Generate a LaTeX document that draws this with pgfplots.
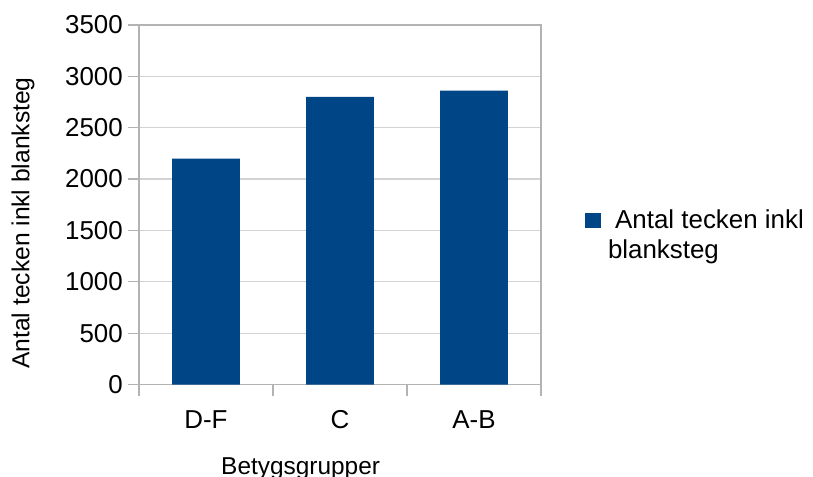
\documentclass[border=0pt]{standalone}
\usepackage{fontspec}
\setmainfont{Liberation Sans}
\usepackage{pgfplots}
\pgfplotsset{compat=1.18}
\definecolor{barblue}{HTML}{004586}
\definecolor{axisgray}{HTML}{B3B3B3}
\definecolor{gridgray}{HTML}{D3D3D3}

\begin{document}
\begin{tikzpicture}
\begin{axis}[
  at={(0,0)}, anchor=south west,
  scale only axis, width=402bp, height=359.5bp,
  xmin=-0.5, xmax=2.5, ymin=0, ymax=3500,
  ytick={0,500,...,3500},
  xtick={0,1,2}, xticklabels={D-F,C,A-B},
  xtick pos=bottom, ytick pos=left,
  xtick style={draw=none},
  extra x ticks={-0.5,0.5,1.5,2.5}, extra x tick labels={},
  extra x tick style={xtick style={draw=axisgray, line width=1.2bp}, xtick pos=bottom},
  ytick style={draw=axisgray, line width=1.2bp},
  tick align=outside, major tick length=11bp,
  ymajorgrids, grid style={draw=gridgray, line width=1.2bp},
  axis line style={draw=axisgray, line width=1.2bp},
  /pgf/number format/assume math mode=true,
  /pgf/number format/1000 sep={},
  tick label style={font=\fontsize{26}{30}\selectfont, inner sep=0pt},
  yticklabel style={anchor=east, xshift=-5bp},
  xticklabel style={anchor=base, yshift=-32.5bp},
  xlabel={Betygsgrupper},
  xlabel style={at={(axis description cs:0.402,-0.249)}, anchor=base,
    inner sep=0pt, font=\fontsize{24.5}{28}\selectfont},
  ylabel={Antal tecken inkl blanksteg},
  ylabel style={at={(axis description cs:-0.2886,0.4492)}, anchor=center,
    inner sep=0pt, font=\fontsize{24.7}{28}\selectfont},
  legend style={draw=none, fill=none, at={(1.1095,0.491)}, anchor=north west,
    inner sep=0pt, outer sep=0pt, column sep=7bp,
    nodes={inner sep=0pt, font=\fontsize{26}{30}\selectfont}},
  legend cell align=left,
  legend image code/.code={\fill[barblue] (0bp,-9bp) rectangle (16bp,6bp);},
]
\addplot[ybar, bar width=0.507, fill=barblue, draw=none]
  coordinates {(0,2200) (1,2800) (2,2860)};
\addlegendentry{\begin{tabular}[t]{@{}l@{}}\ Antal tecken inkl\\blanksteg\end{tabular}}
\end{axis}
\pgfresetboundingbox
\path (-139bp,-92.5bp) rectangle (674bp,384.5bp);
\end{tikzpicture}
\end{document}
